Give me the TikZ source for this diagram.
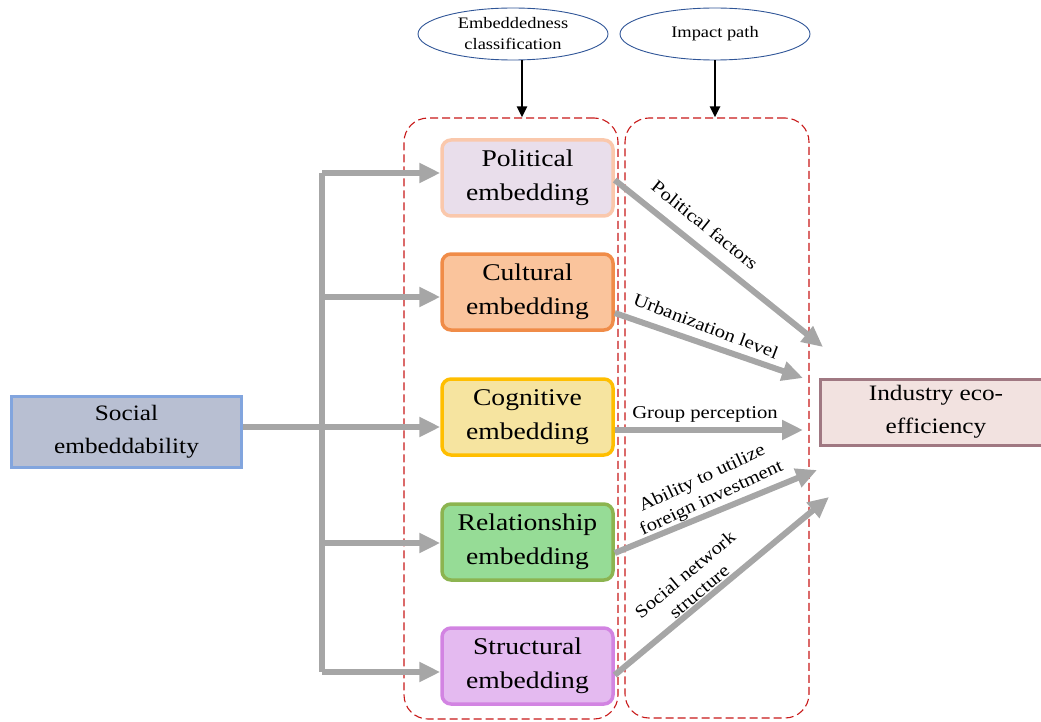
\documentclass[tikz,border=0pt]{standalone}
\usepackage{fontspec}
\setmainfont{Liberation Serif}[FakeStretch=1.15]
\usetikzlibrary{arrows.meta,shapes.geometric}
\definecolor{garrowc}{RGB}{166,166,166}
\definecolor{socfill}{RGB}{184,191,210}
\definecolor{socdraw}{RGB}{130,165,222}
\definecolor{polfill}{RGB}{233,222,235}
\definecolor{poldraw}{RGB}{250,200,172}
\definecolor{culfill}{RGB}{250,196,156}
\definecolor{culdraw}{RGB}{240,140,72}
\definecolor{cogfill}{RGB}{246,228,160}
\definecolor{cogdraw}{RGB}{255,190,0}
\definecolor{relfill}{RGB}{150,220,150}
\definecolor{reldraw}{RGB}{140,180,80}
\definecolor{strfill}{RGB}{228,186,240}
\definecolor{strdraw}{RGB}{210,132,226}
\definecolor{indfill}{RGB}{242,226,224}
\definecolor{inddraw}{RGB}{160,120,130}
\definecolor{dashred}{RGB}{200,25,25}
\definecolor{ellblue}{RGB}{47,85,151}
\begin{document}
\begin{tikzpicture}[x=1pt,y=1pt,
  embox/.style={draw, line width=3.5pt, rounded corners=9pt, minimum width=171pt,
    minimum height=76pt, align=center, inner sep=0pt,
    font=\fontsize{24}{34}\selectfont},
  bigbox/.style={draw, line width=3pt, align=center, inner sep=0pt,
    font=\fontsize{22}{33}\selectfont},
  dbox/.style={draw=dashred, line width=1.1pt, dash pattern=on 8pt off 4pt,
    rounded corners=24pt},
  ellnode/.style={ellipse, draw=ellblue, line width=0.9pt, minimum width=190pt,
    minimum height=52pt, inner sep=0pt, align=center,
    font=\fontsize{16}{21}\selectfont},
  garrow/.style={draw=garrowc, line width=6pt, -{Triangle[length=21pt,width=19pt]}},
  gline/.style={draw=garrowc, line width=6pt},
  barrow/.style={draw=black, line width=2.5pt, -{Triangle[length=11pt,width=10pt]}},
  lab/.style={font=\fontsize{18}{22}\selectfont, align=center, inner sep=0pt}
]
\useasboundingbox (0,0) rectangle (1041,-722);

% dashed frames
\node[dbox, minimum width=214pt, minimum height=601pt] (db1) at (511,-418.5) {};
\node[dbox, minimum width=184pt, minimum height=600pt] (db2) at (717,-418) {};

% ellipses
\node[ellnode] (ell1) at (513,-34) {Embeddedness\\classification};
\node[ellnode] (ell2) at (715,-34) {Impact path};
\draw[barrow] ([xshift=9pt]ell1.south) -- ([xshift=9pt]ell1.south |- db1.north);
\draw[barrow] (ell2.south) -- (ell2.south |- db2.north);

% main boxes
\node[bigbox, fill=socfill, draw=socdraw, minimum width=230pt, minimum height=71pt] (soc) at (126.5,-432) {Social\\embeddability};
\node[embox, fill=polfill, draw=poldraw] (pol) at (527.5,-178) {Political\\embedding};
\node[embox, fill=culfill, draw=culdraw] (cul) at (527.5,-292) {Cultural\\embedding};
\node[embox, fill=cogfill, draw=cogdraw] (cog) at (527.5,-417) {Cognitive\\embedding};
\node[embox, fill=relfill, draw=reldraw] (rel) at (527.5,-542) {Relationship\\embedding};
\node[embox, fill=strfill, draw=strdraw] (str) at (527.5,-666) {Structural\\embedding};
\node[bigbox, fill=indfill, draw=inddraw, minimum width=232pt, minimum height=66pt] (ind) at (936,-412) {Industry eco-\\efficiency};

% trunk and branches
\coordinate (jt) at (322,-173);
\coordinate (jc) at (322,-297);
\coordinate (jr) at (322,-543);
\coordinate (jb) at (322,-672);
\draw[gline] (jt) -- (jb);
\draw[garrow] ([yshift=5pt]soc.east) -- ([yshift=5pt]soc.east -| cog.west);
\draw[garrow] (jt) -- (jt -| pol.west);
\draw[garrow] (jc) -- (jc -| cul.west);
\draw[garrow] (jr) -- (jr -| rel.west);
\draw[garrow] (jb) -- (jb -| str.west);

% impact arrows
\coordinate (e1) at (823,-347);
\coordinate (e2) at (803,-378);
\coordinate (e3) at (803,-430);
\coordinate (e4) at (817,-470);
\coordinate (e5) at (829,-497);
\draw[garrow] ([yshift=-2pt]pol.east) -- (e1);
\draw[garrow] ([yshift=-21pt]cul.east) -- (e2);
\draw[garrow] ([yshift=-13pt]cog.east) -- (e3);
\draw[garrow] ([yshift=-11pt]rel.east) -- (e4);
\draw[garrow] ([yshift=-9pt]str.east) -- (e5);

% labels
\node[lab, rotate=-38.8] (l1) at (705,-225) {Political factors};
\node[lab, rotate=-21] (l2) at (706,-326) {Urbanization level};
\node[lab] (l3) at (705,-414) {Group perception};
\node[lab, rotate=25] (l4) at (707,-489) {Ability to utilize\\foreign investment};
\node[lab, rotate=40] (l5) at (692,-583) {Social network\\structure};
\end{tikzpicture}
\end{document}
